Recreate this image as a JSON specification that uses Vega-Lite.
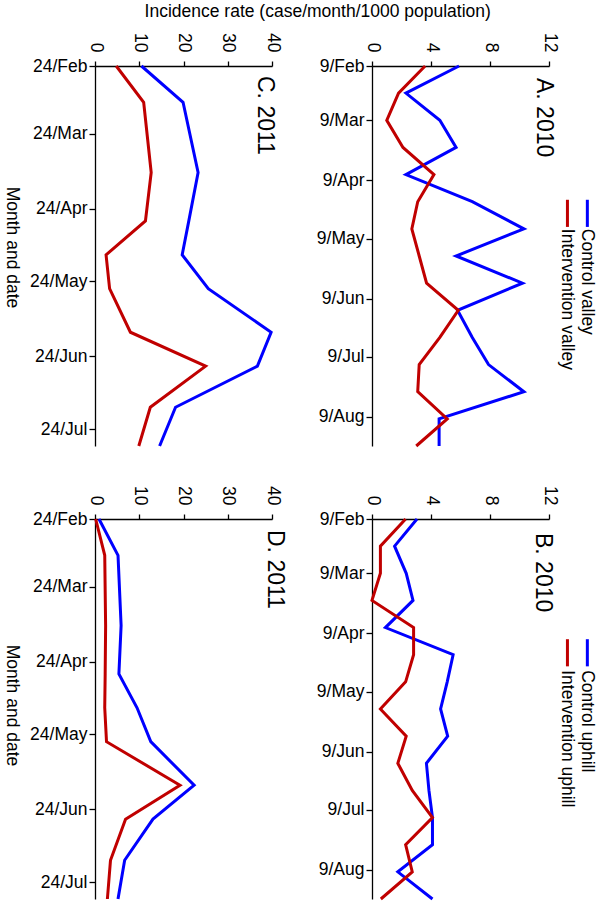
{
  "$schema": "https://vega.github.io/schema/vega-lite/v6.json",
  "padding": {"left": 3, "top": 3, "right": 0, "bottom": 0},
  "background": "white",
  "title": {"text": "Incidence rate (case/month/1000 population)", "anchor": "middle", "fontSize": 17.5, "fontWeight": "normal", "font": "Liberation Sans", "color": "black", "offset": 12, "dx": 18},
  "config": {
    "font": "Liberation Sans",
    "view": {"stroke": null},
    "axis": {"domainColor": "black", "tickColor": "black", "labelColor": "black", "titleColor": "black", "labelFontSize": 17.5, "titleFontSize": 17.5, "titleFontWeight": "normal", "grid": false, "domainWidth": 1.3, "tickWidth": 1.3, "labelFont": "Liberation Sans", "titleFont": "Liberation Sans", "labelOverlap": false, "labelFlush": false},
    "title": {"fontWeight": "normal", "color": "black", "font": "Liberation Sans"},
    "text": {"font": "Liberation Sans"}
  },
  "datasets": {
    "y2010": [
      {"date": "2010/02/09", "site": "valley", "arm": "Control", "rate": 5.9},
      {"date": "2010/02/23", "site": "valley", "arm": "Control", "rate": 2.3},
      {"date": "2010/03/09", "site": "valley", "arm": "Control", "rate": 4.6},
      {"date": "2010/03/23", "site": "valley", "arm": "Control", "rate": 5.7},
      {"date": "2010/04/06", "site": "valley", "arm": "Control", "rate": 2.3},
      {"date": "2010/04/20", "site": "valley", "arm": "Control", "rate": 6.8},
      {"date": "2010/05/04", "site": "valley", "arm": "Control", "rate": 10.3},
      {"date": "2010/05/18", "site": "valley", "arm": "Control", "rate": 5.7},
      {"date": "2010/06/01", "site": "valley", "arm": "Control", "rate": 10.2},
      {"date": "2010/06/15", "site": "valley", "arm": "Control", "rate": 5.8},
      {"date": "2010/06/29", "site": "valley", "arm": "Control", "rate": 6.8},
      {"date": "2010/07/13", "site": "valley", "arm": "Control", "rate": 7.9},
      {"date": "2010/07/27", "site": "valley", "arm": "Control", "rate": 10.3},
      {"date": "2010/08/10", "site": "valley", "arm": "Control", "rate": 4.55},
      {"date": "2010/08/24", "site": "valley", "arm": "Control", "rate": 4.55},
      {"date": "2010/02/09", "site": "valley", "arm": "Intervention", "rate": 3.6},
      {"date": "2010/02/23", "site": "valley", "arm": "Intervention", "rate": 1.8},
      {"date": "2010/03/09", "site": "valley", "arm": "Intervention", "rate": 1.0},
      {"date": "2010/03/23", "site": "valley", "arm": "Intervention", "rate": 2.1},
      {"date": "2010/04/06", "site": "valley", "arm": "Intervention", "rate": 4.2},
      {"date": "2010/04/20", "site": "valley", "arm": "Intervention", "rate": 3.1},
      {"date": "2010/05/04", "site": "valley", "arm": "Intervention", "rate": 2.7},
      {"date": "2010/05/18", "site": "valley", "arm": "Intervention", "rate": 3.2},
      {"date": "2010/06/01", "site": "valley", "arm": "Intervention", "rate": 3.7},
      {"date": "2010/06/15", "site": "valley", "arm": "Intervention", "rate": 5.85},
      {"date": "2010/06/29", "site": "valley", "arm": "Intervention", "rate": 4.6},
      {"date": "2010/07/13", "site": "valley", "arm": "Intervention", "rate": 3.2},
      {"date": "2010/07/27", "site": "valley", "arm": "Intervention", "rate": 3.1},
      {"date": "2010/08/10", "site": "valley", "arm": "Intervention", "rate": 5.1},
      {"date": "2010/08/24", "site": "valley", "arm": "Intervention", "rate": 3.0},
      {"date": "2010/02/09", "site": "uphill", "arm": "Control", "rate": 3.05},
      {"date": "2010/02/23", "site": "uphill", "arm": "Control", "rate": 1.53},
      {"date": "2010/03/09", "site": "uphill", "arm": "Control", "rate": 2.32},
      {"date": "2010/03/23", "site": "uphill", "arm": "Control", "rate": 2.78},
      {"date": "2010/04/06", "site": "uphill", "arm": "Control", "rate": 0.91},
      {"date": "2010/04/20", "site": "uphill", "arm": "Control", "rate": 5.5},
      {"date": "2010/05/04", "site": "uphill", "arm": "Control", "rate": 5.1},
      {"date": "2010/05/18", "site": "uphill", "arm": "Control", "rate": 4.65},
      {"date": "2010/06/01", "site": "uphill", "arm": "Control", "rate": 5.13},
      {"date": "2010/06/15", "site": "uphill", "arm": "Control", "rate": 3.69},
      {"date": "2010/06/29", "site": "uphill", "arm": "Control", "rate": 3.86},
      {"date": "2010/07/13", "site": "uphill", "arm": "Control", "rate": 4.1},
      {"date": "2010/07/27", "site": "uphill", "arm": "Control", "rate": 4.1},
      {"date": "2010/08/10", "site": "uphill", "arm": "Control", "rate": 1.75},
      {"date": "2010/08/24", "site": "uphill", "arm": "Control", "rate": 4.1},
      {"date": "2010/02/09", "site": "uphill", "arm": "Intervention", "rate": 2.28},
      {"date": "2010/02/23", "site": "uphill", "arm": "Intervention", "rate": 0.57},
      {"date": "2010/03/09", "site": "uphill", "arm": "Intervention", "rate": 0.57},
      {"date": "2010/03/23", "site": "uphill", "arm": "Intervention", "rate": 0.0},
      {"date": "2010/04/06", "site": "uphill", "arm": "Intervention", "rate": 2.82},
      {"date": "2010/04/20", "site": "uphill", "arm": "Intervention", "rate": 2.82},
      {"date": "2010/05/04", "site": "uphill", "arm": "Intervention", "rate": 2.28},
      {"date": "2010/05/18", "site": "uphill", "arm": "Intervention", "rate": 0.57},
      {"date": "2010/06/01", "site": "uphill", "arm": "Intervention", "rate": 2.32},
      {"date": "2010/06/15", "site": "uphill", "arm": "Intervention", "rate": 1.75},
      {"date": "2010/06/29", "site": "uphill", "arm": "Intervention", "rate": 2.73},
      {"date": "2010/07/13", "site": "uphill", "arm": "Intervention", "rate": 4.1},
      {"date": "2010/07/27", "site": "uphill", "arm": "Intervention", "rate": 2.28},
      {"date": "2010/08/10", "site": "uphill", "arm": "Intervention", "rate": 2.73},
      {"date": "2010/08/24", "site": "uphill", "arm": "Intervention", "rate": 0.6}
    ],
    "y2011": [
      {"date": "2011/02/24", "site": "valley", "arm": "Control", "rate": 10.5},
      {"date": "2011/03/11", "site": "valley", "arm": "Control", "rate": 19.9},
      {"date": "2011/04/09", "site": "valley", "arm": "Control", "rate": 23.3},
      {"date": "2011/04/29", "site": "valley", "arm": "Control", "rate": 21.2},
      {"date": "2011/05/13", "site": "valley", "arm": "Control", "rate": 19.7},
      {"date": "2011/05/27", "site": "valley", "arm": "Control", "rate": 25.6},
      {"date": "2011/06/14", "site": "valley", "arm": "Control", "rate": 39.8},
      {"date": "2011/06/28", "site": "valley", "arm": "Control", "rate": 36.7},
      {"date": "2011/07/15", "site": "valley", "arm": "Control", "rate": 18.2},
      {"date": "2011/07/31", "site": "valley", "arm": "Control", "rate": 14.6},
      {"date": "2011/02/24", "site": "valley", "arm": "Intervention", "rate": 4.8},
      {"date": "2011/03/11", "site": "valley", "arm": "Intervention", "rate": 11.0},
      {"date": "2011/04/09", "site": "valley", "arm": "Intervention", "rate": 12.7},
      {"date": "2011/04/29", "site": "valley", "arm": "Intervention", "rate": 11.4},
      {"date": "2011/05/13", "site": "valley", "arm": "Intervention", "rate": 2.5},
      {"date": "2011/05/27", "site": "valley", "arm": "Intervention", "rate": 3.3},
      {"date": "2011/06/14", "site": "valley", "arm": "Intervention", "rate": 8.0},
      {"date": "2011/06/28", "site": "valley", "arm": "Intervention", "rate": 25.0},
      {"date": "2011/07/15", "site": "valley", "arm": "Intervention", "rate": 12.5},
      {"date": "2011/07/31", "site": "valley", "arm": "Intervention", "rate": 9.9},
      {"date": "2011/02/24", "site": "uphill", "arm": "Control", "rate": 0.9},
      {"date": "2011/03/11", "site": "uphill", "arm": "Control", "rate": 5.2},
      {"date": "2011/04/09", "site": "uphill", "arm": "Control", "rate": 5.9},
      {"date": "2011/04/29", "site": "uphill", "arm": "Control", "rate": 5.4},
      {"date": "2011/05/13", "site": "uphill", "arm": "Control", "rate": 9.5},
      {"date": "2011/05/27", "site": "uphill", "arm": "Control", "rate": 12.6},
      {"date": "2011/06/14", "site": "uphill", "arm": "Control", "rate": 22.4},
      {"date": "2011/06/28", "site": "uphill", "arm": "Control", "rate": 13.1},
      {"date": "2011/07/15", "site": "uphill", "arm": "Control", "rate": 6.7},
      {"date": "2011/07/31", "site": "uphill", "arm": "Control", "rate": 5.2},
      {"date": "2011/02/24", "site": "uphill", "arm": "Intervention", "rate": 0.15},
      {"date": "2011/03/11", "site": "uphill", "arm": "Intervention", "rate": 2.2},
      {"date": "2011/04/09", "site": "uphill", "arm": "Intervention", "rate": 2.4},
      {"date": "2011/04/29", "site": "uphill", "arm": "Intervention", "rate": 2.3},
      {"date": "2011/05/13", "site": "uphill", "arm": "Intervention", "rate": 2.2},
      {"date": "2011/05/27", "site": "uphill", "arm": "Intervention", "rate": 2.6},
      {"date": "2011/06/14", "site": "uphill", "arm": "Intervention", "rate": 19.2},
      {"date": "2011/06/28", "site": "uphill", "arm": "Intervention", "rate": 6.9},
      {"date": "2011/07/15", "site": "uphill", "arm": "Intervention", "rate": 3.5},
      {"date": "2011/07/31", "site": "uphill", "arm": "Intervention", "rate": 2.8}
    ]
  },
  "columns": 2,
  "spacing": {"row": 73, "column": 100},
  "bounds": "flush",
  "concat": [
    {
      "width": 177, "height": 380,
      "title": {"text": "C. 2011", "orient": "right", "anchor": "start", "frame": "group", "angle": 90, "baseline": "alphabetic", "offset": -46, "dx": 10, "fontSize": 23},
      "data": {"name": "y2011"},
      "transform": [{"filter": "datum.site === 'valley'"}],
      "layer": [
        {
          "mark": {"type": "line", "strokeWidth": 3, "clip": false},
          "encoding": {
            "x": {"field": "rate", "type": "quantitative", "scale": {"domain": [0, 40], "nice": false, "zero": false},
                  "axis": {"orient": "top", "values": [0, 10, 20, 30, 40], "labelAngle": 90, "labelAlign": "right", "labelBaseline": "middle", "tickSize": 5, "labelPadding": 9, "title": null}},
            "y": {"field": "date", "type": "temporal",
                  "scale": {"domain": [{"year": 2011, "month": 2, "date": 24}, {"year": 2011, "month": 7, "date": 31}], "nice": false, "reverse": true},
                  "axis": {"orient": "left", "values": [{"year": 2011, "month": 2, "date": 24}, {"year": 2011, "month": 3, "date": 24}, {"year": 2011, "month": 4, "date": 24}, {"year": 2011, "month": 5, "date": 24}, {"year": 2011, "month": 6, "date": 24}, {"year": 2011, "month": 7, "date": 24}],
                           "format": "%-d/%b", "labelAngle": 0, "labelAlign": "right", "labelBaseline": "middle", "tickSize": 6, "labelPadding": 2, "title": "Month and date", "titleAngle": 90, "titleBaseline": "top", "titlePadding": 9, "titleY": 181}},
            "color": {"field": "arm", "type": "nominal", "scale": {"domain": ["Control", "Intervention"], "range": ["#0000ff", "#c00000"]}, "legend": null},
            "order": {"field": "date", "type": "temporal"}
          }
        }
      ]
    },
    {
      "width": 177, "height": 380,
      "title": {"text": "A. 2010", "orient": "right", "anchor": "start", "frame": "group", "angle": 90, "baseline": "alphabetic", "offset": -82, "dx": 12, "fontSize": 23},
      "data": {"name": "y2010"},
      "transform": [{"filter": "datum.site === 'valley'"}],
      "layer": [
        {
          "mark": {"type": "line", "strokeWidth": 3, "clip": false},
          "encoding": {
            "x": {"field": "rate", "type": "quantitative", "scale": {"domain": [0, 12], "nice": false, "zero": false},
                  "axis": {"orient": "top", "values": [0, 4, 8, 12], "labelAngle": 90, "labelAlign": "right", "labelBaseline": "middle", "tickSize": 5, "labelPadding": 9, "title": null}},
            "y": {"field": "date", "type": "temporal",
                  "scale": {"domain": [{"year": 2010, "month": 2, "date": 9}, {"year": 2010, "month": 8, "date": 24}], "nice": false, "reverse": true},
                  "axis": {"orient": "left", "values": [{"year": 2010, "month": 2, "date": 9}, {"year": 2010, "month": 3, "date": 9}, {"year": 2010, "month": 4, "date": 9}, {"year": 2010, "month": 5, "date": 9}, {"year": 2010, "month": 6, "date": 9}, {"year": 2010, "month": 7, "date": 9}, {"year": 2010, "month": 8, "date": 9}],
                           "format": "%-d/%b", "labelAngle": 0, "labelAlign": "right", "labelBaseline": "middle", "tickSize": 6, "labelPadding": 2, "title": null}},
            "color": {"field": "arm", "type": "nominal", "scale": {"domain": ["Control", "Intervention"], "range": ["#0000ff", "#c00000"]}, "legend": null},
            "order": {"field": "date", "type": "temporal"}
          }
        },
        {
          "data": {"values": [{}]},
          "mark": {"type": "rule", "strokeWidth": 3, "color": "#c00000", "clip": false},
          "encoding": {
            "x": {"datum": 13.25, "type": "quantitative"},
            "y": {"datum": {"year": 2010, "month": 4, "date": 19}, "type": "temporal"},
            "y2": {"datum": {"year": 2010, "month": 5, "date": 3}}
          }
        },
        {
          "data": {"values": [{}]},
          "mark": {"type": "rule", "strokeWidth": 3, "color": "#0000ff", "clip": false},
          "encoding": {
            "x": {"datum": 14.6, "type": "quantitative"},
            "y": {"datum": {"year": 2010, "month": 4, "date": 19}, "type": "temporal"},
            "y2": {"datum": {"year": 2010, "month": 5, "date": 3}}
          }
        },
        {
          "data": {"values": [{}]},
          "mark": {"type": "text", "angle": 90, "align": "left", "baseline": "middle", "fontSize": 17.5, "color": "black", "clip": false},
          "encoding": {
            "x": {"datum": 13.25, "type": "quantitative"},
            "y": {"datum": {"year": 2010, "month": 5, "date": 4}, "type": "temporal"},
            "text": {"value": "Intervention valley"}
          }
        },
        {
          "data": {"values": [{}]},
          "mark": {"type": "text", "angle": 90, "align": "left", "baseline": "middle", "fontSize": 17.5, "color": "black", "clip": false},
          "encoding": {
            "x": {"datum": 14.6, "type": "quantitative"},
            "y": {"datum": {"year": 2010, "month": 5, "date": 4}, "type": "temporal"},
            "text": {"value": "Control valley"}
          }
        }
      ]
    },
    {
      "width": 177, "height": 380,
      "title": {"text": "D. 2011", "orient": "right", "anchor": "start", "frame": "group", "angle": 90, "baseline": "alphabetic", "offset": -36, "dx": 11, "fontSize": 23},
      "data": {"name": "y2011"},
      "transform": [{"filter": "datum.site === 'uphill'"}],
      "layer": [
        {
          "mark": {"type": "line", "strokeWidth": 3, "clip": false},
          "encoding": {
            "x": {"field": "rate", "type": "quantitative", "scale": {"domain": [0, 40], "nice": false, "zero": false},
                  "axis": {"orient": "top", "values": [0, 10, 20, 30, 40], "labelAngle": 90, "labelAlign": "right", "labelBaseline": "middle", "tickSize": 5, "labelPadding": 9, "title": null}},
            "y": {"field": "date", "type": "temporal",
                  "scale": {"domain": [{"year": 2011, "month": 2, "date": 24}, {"year": 2011, "month": 7, "date": 31}], "nice": false, "reverse": true},
                  "axis": {"orient": "left", "values": [{"year": 2011, "month": 2, "date": 24}, {"year": 2011, "month": 3, "date": 24}, {"year": 2011, "month": 4, "date": 24}, {"year": 2011, "month": 5, "date": 24}, {"year": 2011, "month": 6, "date": 24}, {"year": 2011, "month": 7, "date": 24}],
                           "format": "%-d/%b", "labelAngle": 0, "labelAlign": "right", "labelBaseline": "middle", "tickSize": 6, "labelPadding": 2, "title": "Month and date", "titleAngle": 90, "titleBaseline": "top", "titlePadding": 9, "titleY": 186}},
            "color": {"field": "arm", "type": "nominal", "scale": {"domain": ["Control", "Intervention"], "range": ["#0000ff", "#c00000"]}, "legend": null},
            "order": {"field": "date", "type": "temporal"}
          }
        }
      ]
    },
    {
      "width": 177, "height": 380,
      "title": {"text": "B. 2010", "orient": "right", "anchor": "start", "frame": "group", "angle": 90, "baseline": "alphabetic", "offset": -83, "dx": 14, "fontSize": 23},
      "data": {"name": "y2010"},
      "transform": [{"filter": "datum.site === 'uphill'"}],
      "layer": [
        {
          "mark": {"type": "line", "strokeWidth": 3, "clip": false},
          "encoding": {
            "x": {"field": "rate", "type": "quantitative", "scale": {"domain": [0, 12], "nice": false, "zero": false},
                  "axis": {"orient": "top", "values": [0, 4, 8, 12], "labelAngle": 90, "labelAlign": "right", "labelBaseline": "middle", "tickSize": 5, "labelPadding": 9, "title": null}},
            "y": {"field": "date", "type": "temporal",
                  "scale": {"domain": [{"year": 2010, "month": 2, "date": 9}, {"year": 2010, "month": 8, "date": 24}], "nice": false, "reverse": true},
                  "axis": {"orient": "left", "values": [{"year": 2010, "month": 2, "date": 9}, {"year": 2010, "month": 3, "date": 9}, {"year": 2010, "month": 4, "date": 9}, {"year": 2010, "month": 5, "date": 9}, {"year": 2010, "month": 6, "date": 9}, {"year": 2010, "month": 7, "date": 9}, {"year": 2010, "month": 8, "date": 9}],
                           "format": "%-d/%b", "labelAngle": 0, "labelAlign": "right", "labelBaseline": "middle", "tickSize": 6, "labelPadding": 2, "title": null}},
            "color": {"field": "arm", "type": "nominal", "scale": {"domain": ["Control", "Intervention"], "range": ["#0000ff", "#c00000"]}, "legend": null},
            "order": {"field": "date", "type": "temporal"}
          }
        },
        {
          "data": {"values": [{}]},
          "mark": {"type": "rule", "strokeWidth": 3, "color": "#c00000", "clip": false},
          "encoding": {
            "x": {"datum": 13.25, "type": "quantitative"},
            "y": {"datum": {"year": 2010, "month": 4, "date": 12}, "type": "temporal"},
            "y2": {"datum": {"year": 2010, "month": 4, "date": 26}}
          }
        },
        {
          "data": {"values": [{}]},
          "mark": {"type": "rule", "strokeWidth": 3, "color": "#0000ff", "clip": false},
          "encoding": {
            "x": {"datum": 14.6, "type": "quantitative"},
            "y": {"datum": {"year": 2010, "month": 4, "date": 12}, "type": "temporal"},
            "y2": {"datum": {"year": 2010, "month": 4, "date": 26}}
          }
        },
        {
          "data": {"values": [{}]},
          "mark": {"type": "text", "angle": 90, "align": "left", "baseline": "middle", "fontSize": 17.5, "color": "black", "clip": false},
          "encoding": {
            "x": {"datum": 13.25, "type": "quantitative"},
            "y": {"datum": {"year": 2010, "month": 4, "date": 28}, "type": "temporal"},
            "text": {"value": "Intervention uphill"}
          }
        },
        {
          "data": {"values": [{}]},
          "mark": {"type": "text", "angle": 90, "align": "left", "baseline": "middle", "fontSize": 17.5, "color": "black", "clip": false},
          "encoding": {
            "x": {"datum": 14.6, "type": "quantitative"},
            "y": {"datum": {"year": 2010, "month": 4, "date": 28}, "type": "temporal"},
            "text": {"value": "Control uphill"}
          }
        }
      ]
    }
  ]
}
